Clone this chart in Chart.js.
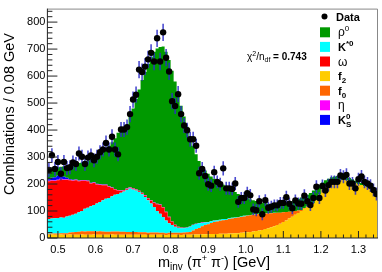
<!DOCTYPE html>
<html>
<head>
<meta charset="utf-8">
<script src="https://cdn.jsdelivr.net/npm/chart.js@4.4.1/dist/chart.umd.min.js"></script>
<style>
html, body { margin: 0; padding: 0; background: #fff; }
#c { display: block; }
</style>
</head>
<body>
<canvas id="c" width="382" height="272"></canvas>
<script>
'use strict';

var FONT = '"Liberation Sans", Arial, Helvetica, sans-serif';

// histogram binning (GeV)
var binLow = 0.472;
var binWidth = 0.008;

// measured combinations per bin
var data = [
  252, 307, 256, 282, 238, 282, 259, 262, 280, 274,
  313, 301, 274, 298, 306, 288, 301, 318, 328, 352,
  328, 375, 328, 310, 402, 402, 411, 459, 513, 531,
  624, 615, 635, 662, 686, 654, 740, 654, 762, 668,
  617, 507, 489, 533, 459, 417, 399, 366, 366, 342,
  240, 256, 230, 199, 194, 244, 208, 199, 258, 184,
  184, 182, 202, 134, 148, 148, 166, 158, 106, 103,
  136, 88, 140, 112, 116, 121, 121, 130, 130, 151,
  127, 110, 139, 128, 127, 157, 136, 122, 148, 190,
  148, 193, 176, 196, 208, 208, 208, 232, 227, 234,
  202, 202, 184, 218, 228, 208, 202, 194, 178, 163
];
var dataErr = [
  26, 26, 26, 26, 24, 26, 26, 26, 26, 26,
  26, 26, 26, 26, 26, 26, 26, 26, 26, 28,
  26, 28, 26, 26, 28, 28, 28, 30, 30, 30,
  32, 32, 32, 32, 32, 32, 32, 32, 32, 32,
  32, 30, 30, 30, 30, 28, 28, 28, 28, 26,
  24, 26, 24, 24, 24, 24, 24, 24, 26, 24,
  24, 24, 24, 22, 22, 22, 24, 24, 22, 22,
  22, 22, 22, 22, 22, 22, 22, 22, 22, 24,
  22, 22, 22, 22, 22, 24, 22, 22, 22, 24,
  22, 24, 24, 24, 24, 24, 24, 24, 24, 24,
  24, 24, 24, 24, 24, 24, 24, 24, 24, 24
];

// fit components (stacked, bottom to top)
var f2 = [
  12, 13, 12, 12, 13, 12, 12, 13, 12, 12,
  12, 13, 12, 12, 12, 13, 12, 12, 12, 12,
  12, 13, 12, 12, 12, 12, 12, 12, 12, 12,
  12, 12, 12, 11, 12, 12, 12, 12, 12, 11,
  12, 12, 12, 12, 11, 12, 12, 12, 13, 13,
  13, 14, 14, 14, 15, 15, 15, 16, 16, 16,
  17, 17, 18, 18, 19, 20, 21, 22, 24, 26,
  28, 30, 33, 36, 40, 44, 48, 53, 59, 65,
  72, 79, 86, 93, 100, 108, 116, 124, 130, 140,
  160, 180, 192, 202, 209, 214, 216, 216, 216, 214,
  211, 208, 204, 200, 196, 192, 187, 182, 175, 165
];
var f0 = [
  4, 4, 5, 5, 5, 6, 6, 7, 9, 10,
  11, 12, 12, 13, 13, 12, 12, 13, 12, 11,
  11, 11, 12, 12, 11, 11, 10, 10, 10, 10,
  9, 9, 9, 8, 8, 8, 8, 7, 7, 7,
  7, 7, 7, 7, 8, 8, 9, 10, 15, 20,
  24, 30, 34, 37, 41, 44, 46, 48, 50, 51,
  53, 55, 56, 58, 59, 60, 61, 62, 62, 62,
  61, 60, 58, 56, 52, 49, 46, 41, 36, 31,
  25, 19, 14, 9, 4, 3, 2, 1, 0, 0,
  0, 0, 0, 0, 0, 0, 0, 0, 0, 0,
  0, 0, 0, 0, 0, 0, 0, 0, 0, 0
];
var kstar = [
  54, 55, 56, 57, 58, 57, 62, 62, 65, 68,
  72, 75, 84, 87, 93, 97, 104, 108, 116, 122,
  125, 131, 136, 139, 145, 149, 156, 161, 158, 154,
  149, 141, 131, 121, 108, 95, 80, 71, 59, 47,
  36, 29, 23, 19, 17, 16, 17, 20, 20, 19,
  18, 12, 9, 7, 6, 5, 5, 4, 4, 3,
  3, 3, 2, 2, 2, 2, 1, 1, 1, 1,
  1, 1, 1, 1, 1, 1, 0, 0, 0, 0,
  0, 0, 0, 0, 0, 0, 0, 0, 0, 0,
  0, 0, 0, 0, 0, 0, 0, 0, 0, 0,
  0, 0, 0, 0, 0, 0, 0, 0, 0, 0
];
var omega = [
  140, 140, 138, 140, 142, 140, 136, 132, 126, 124,
  115, 112, 104, 98, 84, 82, 70, 63, 55, 50,
  42, 30, 20, 13, 6, 4, 3, 3, 3, 3,
  3, 4, 5, 6, 10, 15, 25, 32, 35, 30,
  22, 12, 6, 3, 2, 1, 0, 0, 0, 0,
  0, 0, 0, 0, 0, 0, 0, 0, 0, 0,
  0, 0, 0, 0, 0, 0, 0, 0, 0, 0,
  0, 0, 0, 0, 0, 0, 0, 0, 0, 0,
  0, 0, 0, 0, 0, 0, 0, 0, 0, 0,
  0, 0, 0, 0, 0, 0, 0, 0, 0, 0,
  0, 0, 0, 0, 0, 0, 0, 0, 0, 0
];
var eta = [
  2, 2, 2, 2, 2, 2, 2, 2, 2, 2,
  2, 2, 2, 2, 2, 2, 2, 2, 2, 2,
  2, 2, 2, 2, 2, 2, 2, 2, 2, 2,
  2, 2, 2, 2, 2, 2, 2, 2, 2, 2,
  2, 1, 1, 1, 1, 1, 1, 1, 1, 1,
  1, 1, 1, 1, 1, 1, 0, 0, 0, 0,
  0, 0, 0, 0, 0, 0, 0, 0, 0, 0,
  0, 0, 0, 0, 0, 0, 0, 0, 0, 0,
  0, 0, 0, 0, 0, 0, 0, 0, 0, 0,
  0, 0, 0, 0, 0, 0, 0, 0, 0, 0,
  0, 0, 0, 0, 0, 0, 0, 0, 0, 0
];
var ks = [
  6, 9, 12, 15, 14, 10, 5, 3, 2, 1,
  1, 1, 1, 1, 1, 1, 1, 1, 1, 1,
  1, 0, 0, 0, 0, 0, 0, 0, 0, 0,
  0, 0, 0, 0, 0, 0, 0, 0, 0, 0,
  0, 0, 0, 0, 0, 0, 0, 0, 0, 0,
  0, 0, 0, 0, 0, 0, 0, 0, 0, 0,
  0, 0, 0, 0, 0, 0, 0, 0, 0, 0,
  0, 0, 0, 0, 0, 0, 0, 0, 0, 0,
  0, 0, 0, 0, 0, 0, 0, 0, 0, 0,
  0, 0, 0, 0, 0, 0, 0, 0, 0, 0,
  0, 0, 0, 0, 0, 0, 0, 0, 0, 0
];
var rho = [
  40, 37, 37, 31, 30, 39, 45, 51, 56, 58,
  65, 65, 68, 73, 90, 93, 105, 115, 124, 134,
  149, 168, 188, 212, 224, 227, 237, 262, 295, 334,
  375, 417, 456, 497, 530, 558, 575, 584, 595, 593,
  581, 559, 531, 493, 451, 412, 373, 332, 293, 257,
  229, 208, 192, 179, 165, 155, 146, 137, 127, 120,
  110, 101, 94, 85, 77, 70, 65, 59, 53, 48,
  44, 40, 37, 34, 33, 31, 31, 33, 33, 34,
  36, 38, 40, 43, 46, 44, 42, 42, 46, 46,
  36, 26, 22, 18, 16, 14, 14, 14, 13, 12,
  11, 10, 8, 8, 8, 6, 5, 4, 3, 3
];

var chi2 = '0.743';

var colors = {
  rho: '#009900', kstar: '#00ffff', omega: '#ff0000', f2: '#ffcc00',
  f0: '#ff6600', eta: '#ff00ff', ks: '#0000ff'
};

var edges = [];
for (var i = 0; i <= data.length; i++) {
  edges.push(+(binLow + i * binWidth).toFixed(3));
}

function histo(vals) {
  var pts = vals.map(function(v, i) { return { x: edges[i], y: v }; });
  pts.push({ x: edges[vals.length], y: vals[vals.length - 1] });
  return pts;
}

function component(vals, color, fill) {
  return {
    data: histo(vals),
    stack: 'model',
    stepped: true,
    fill: fill,
    backgroundColor: color,
    borderColor: 'rgba(0,0,0,0)',
    borderWidth: 0,
    pointRadius: 0
  };
}

function rich(ctx, x, y, parts) {
  parts.forEach(function(p) {
    ctx.font = (p.b ? 'bold ' : '') + (p.s || 11) + 'px ' + FONT;
    ctx.fillText(p.t, x, y + (p.dy || 0));
    if (!p.keep) x += ctx.measureText(p.t).width;
  });
  return x;
}

var errorBars = {
  id: 'errorBars',
  beforeDatasetDraw: function(chart, args) {
    if (args.index !== 0) return;
    var ctx = chart.ctx, xs = chart.scales.x, ys = chart.scales.y;
    ctx.save();
    ctx.strokeStyle = 'rgba(45,45,200,0.85)';
    ctx.lineWidth = 1.6;
    ctx.beginPath();
    data.forEach(function(v, i) {
      var px = xs.getPixelForValue(edges[i] + binWidth / 2);
      ctx.moveTo(px, ys.getPixelForValue(v - dataErr[i]));
      ctx.lineTo(px, ys.getPixelForValue(v + dataErr[i]));
    });
    ctx.stroke();
    ctx.restore();
  }
};

var frame = {
  id: 'frame',
  afterDatasetsDraw: function(chart) {
    var ctx = chart.ctx, a = chart.chartArea, xs = chart.scales.x, ys = chart.scales.y;
    ctx.save();
    ctx.lineWidth = 1;
    ctx.strokeStyle = '#888';
    ctx.beginPath();
    ctx.moveTo(a.left, a.top + 0.5);
    ctx.lineTo(a.right - 0.5, a.top + 0.5);
    ctx.lineTo(a.right - 0.5, a.bottom);
    ctx.stroke();
    ctx.strokeStyle = '#222';
    ctx.beginPath();
    ctx.moveTo(a.left, a.top);
    ctx.lineTo(a.left, a.bottom);
    ctx.lineTo(a.right, a.bottom);
    var v, p, len;
    for (v = 0; v <= 840; v += 20) {
      p = ys.getPixelForValue(v);
      len = (v % 100 === 0) ? 10 : 5;
      ctx.moveTo(a.left, p);
      ctx.lineTo(a.left + len, p);
    }
    for (var k = 24; k <= 67; k++) {
      v = k * 0.02;
      p = xs.getPixelForValue(v);
      len = (k % 5 === 0) ? 7 : 3.5;
      ctx.moveTo(p, a.bottom);
      ctx.lineTo(p, a.bottom - len);
    }
    ctx.stroke();
    ctx.restore();
  },
  afterDraw: function(chart) {
    var ctx = chart.ctx;
    ctx.save();
    ctx.fillStyle = '#000';
    ctx.textBaseline = 'alphabetic';

    // axis titles
    rich(ctx, 158, 266.5, [
      { t: 'm', s: 14.5 }, { t: 'inv', s: 10, dy: 3.5 },
      { t: ' (\u03c0', s: 14.5 }, { t: '+', s: 9, dy: -6 },
      { t: ' \u03c0', s: 14.5 }, { t: '-', s: 9, dy: -6 },
      { t: ') [GeV]', s: 14.5 }
    ]);
    ctx.save();
    ctx.translate(14, 114);
    ctx.rotate(-Math.PI / 2);
    ctx.textAlign = 'center';
    ctx.font = '14.5px ' + FONT;
    ctx.fillText('Combinations / 0.08 GeV', 0, 0);
    ctx.restore();

    // fit quality
    rich(ctx, 247, 59.5, [
      { t: '\u03c7', s: 10 }, { t: '2', s: 7, dy: -4 },
      { t: '/n', s: 10 }, { t: 'df', s: 7, dy: 2.5 },
      { t: ' = ' + chi2, s: 10, b: true }
    ]);

    // legend
    ctx.beginPath();
    ctx.arc(324.5, 16.5, 3, 0, Math.PI * 2);
    ctx.fill();
    rich(ctx, 336, 20.5, [{ t: 'Data', s: 11, b: true }]);
    var entries = [
      [colors.rho, [{ t: '\u03c1', s: 12 }, { t: '0', s: 8, dy: -5 }]],
      [colors.kstar, [{ t: 'K', s: 11, b: true }, { t: '*0', s: 8, b: true, dy: -5 }]],
      [colors.omega, [{ t: '\u03c9', s: 12 }]],
      [colors.f2, [{ t: 'f', s: 11, b: true }, { t: '2', s: 8, b: true, dy: 3 }]],
      [colors.f0, [{ t: 'f', s: 11, b: true }, { t: '0', s: 8, b: true, dy: 3 }]],
      [colors.eta, [{ t: '\u03b7', s: 12 }]],
      [colors.ks, [{ t: 'K', s: 11, b: true }, { t: '0', s: 8, b: true, dy: -5, keep: true }, { t: 'S', s: 8, b: true, dy: 3 }]]
    ];
    entries.forEach(function(e, k) {
      var top = 27.3 + k * 14.6;
      ctx.fillStyle = e[0];
      ctx.fillRect(320, top, 10, 10);
      ctx.fillStyle = '#000';
      rich(ctx, 338, top + 9, e[1]);
    });
    ctx.restore();
  }
};

var points = data.map(function(v, i) { return { x: edges[i] + binWidth / 2, y: v }; });

new Chart(document.getElementById('c'), {
  type: 'line',
  data: {
    datasets: [
      {
        label: 'Data',
        data: points,
        stack: 'data',
        showLine: false,
        fill: false,
        pointRadius: 3.2,
        pointBorderWidth: 0,
        pointBackgroundColor: '#000',
        pointBorderColor: '#000'
      },
      component(f2, colors.f2, 'origin'),
      component(f0, colors.f0, '-1'),
      component(kstar, colors.kstar, '-1'),
      component(omega, colors.omega, '-1'),
      component(eta, colors.eta, '-1'),
      component(ks, colors.ks, '-1'),
      component(rho, colors.rho, '-1')
    ]
  },
  options: {
    responsive: false,
    animation: false,
    devicePixelRatio: 1,
    layout: { padding: { top: 1, right: 0.6, left: 0, bottom: 0 } },
    plugins: { legend: { display: false }, tooltip: { enabled: false } },
    scales: {
      x: {
        type: 'linear',
        min: binLow,
        max: 1.352,
        grid: { display: false, drawTicks: false },
        border: { display: false },
        ticks: {
          stepSize: 0.1, includeBounds: false, autoSkip: false, maxRotation: 0,
          padding: 5, color: '#000', font: { family: FONT, size: 11 }
        },
        afterFit: function(s) { s.height = 34; }
      },
      y: {
        min: 0,
        max: 850,
        stacked: true,
        grid: { display: false, drawTicks: false },
        border: { display: false },
        ticks: {
          stepSize: 100, includeBounds: false, padding: 2,
          color: '#000', font: { family: FONT, size: 11 }
        },
        afterFit: function(s) { s.width = 47.4; }
      }
    }
  },
  plugins: [errorBars, frame]
});
</script>
</body>
</html>
